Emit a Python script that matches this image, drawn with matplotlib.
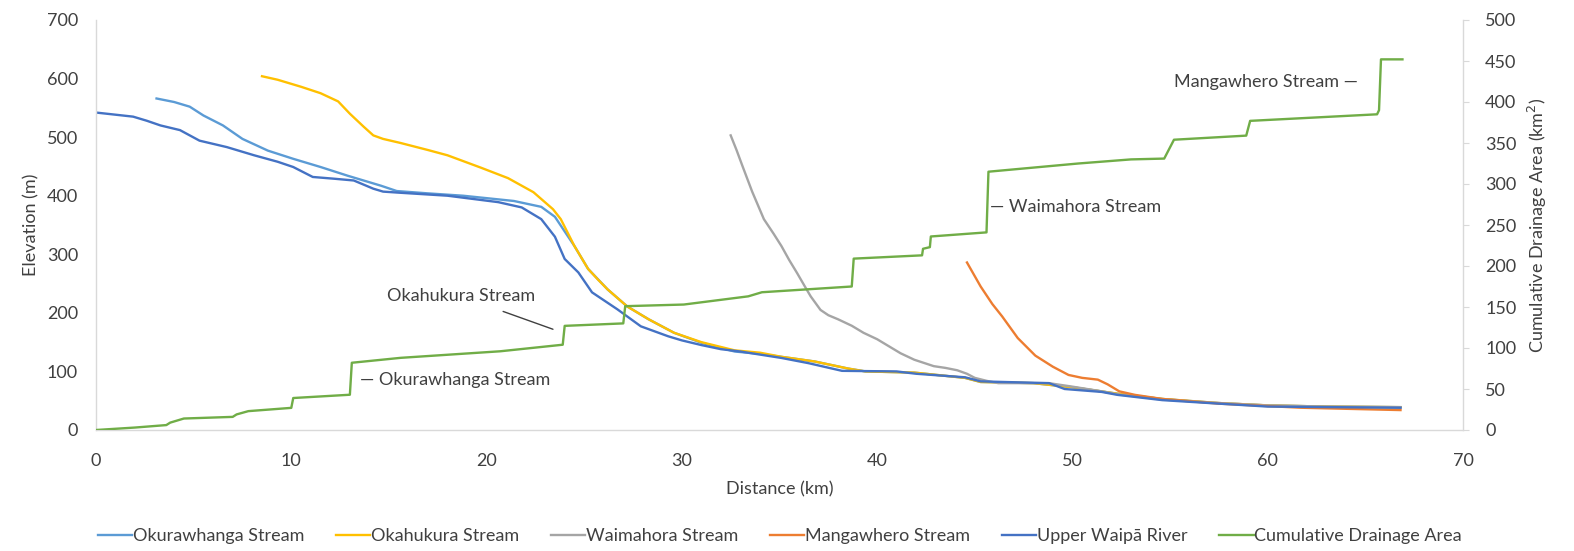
import matplotlib
matplotlib.use("Agg")
import matplotlib.pyplot as plt

plt.rcParams['font.family'] = ['Lato', 'DejaVu Sans']

# Long profiles: distance (km) and elevation (m)
okurawhanga_km = [3.1, 4.0, 4.8, 5.5, 6.5, 7.5, 8.8, 10.1, 11.5, 12.9, 14.6, 15.4, 17.0, 18.8,
                  21.4, 22.8, 23.5, 24.1, 24.5, 25.2, 26.2, 27.2, 28.3, 29.6, 31.0, 32.7, 34.0,
                  36.8, 38.5, 39.4, 41.9, 44.5, 45.3, 48.0, 50.0, 52.3, 54.6, 57.5, 60.0, 63.0,
                  66.8]
okurawhanga_m = [566, 560, 552, 537, 520, 497, 477, 463, 449, 434, 417, 408, 404, 400,
                 391, 381, 364, 334, 314, 275, 240, 211, 189, 166, 149, 134, 130,
                 117, 105, 100, 98, 89, 82, 80, 73, 62, 53, 46, 42, 40,
                 39]

okahukura_km = [8.5, 9.3, 10.5, 11.5, 12.4, 13.0, 13.7, 14.2, 14.7, 15.6, 17.0, 18.0, 19.7,
                21.1, 22.4, 23.4, 23.8, 24.5, 25.2, 25.7, 26.2, 27.2, 28.3, 29.6, 31.0, 32.7,
                34.0, 35.1, 36.8, 38.5, 39.4, 41.9, 44.5, 45.3, 48.0, 50.0, 52.3, 54.6, 57.5,
                60.0, 63.0, 66.8]
okahukura_m = [604, 598, 586, 575, 561, 540, 518, 503, 497, 490, 478, 469, 448,
               430, 406, 377, 360, 314, 275, 257, 240, 211, 189, 166, 150, 136,
               132, 125, 117, 105, 100, 98, 89, 82, 80, 73, 62, 53, 46,
               42, 40, 39]

waimahora_km = [32.5, 32.8, 33.1, 33.6, 34.2, 34.7, 35.1, 35.5, 35.9, 36.3, 36.6, 37.1, 37.5,
                38.0, 38.7, 39.3, 40.0, 40.6, 41.2, 41.9, 42.9, 43.5, 44.1, 44.6, 45.0, 45.6,
                46.2, 48.8, 50.0, 51.5, 52.3, 54.6, 57.5, 60.0, 63.0, 66.8]
waimahora_m = [503, 478, 451, 407, 360, 335, 314, 290, 268, 245, 228, 205, 196,
               189, 178, 166, 155, 143, 131, 120, 109, 106, 102, 96, 89, 84,
               80, 80, 74, 66, 61, 52, 46, 42, 40, 39]

mangawhero_km = [44.6, 45.3, 45.9, 46.4, 47.2, 48.1, 49.0, 49.8, 50.5, 51.3, 51.8, 52.4, 53.2,
                 54.6, 57.5, 61.7, 66.8]
mangawhero_m = [286, 245, 215, 194, 157, 127, 108, 94, 89, 86, 78, 66, 60,
                53, 45, 38, 34]

waipa_km = [0.0, 1.9, 2.6, 3.3, 4.3, 5.3, 6.7, 8.1, 9.3, 10.1, 11.1, 12.2, 13.2, 14.2, 14.7,
            15.6, 18.0, 20.6, 21.8, 22.8, 23.5, 24.0, 24.7, 25.4, 26.7, 27.9, 29.3, 30.0,
            31.0, 32.0, 33.0, 35.1, 36.5, 38.2, 41.0, 42.0, 44.5, 45.3, 48.8, 49.6, 51.5, 52.3,
            54.6, 57.5, 60.0, 66.8]
waipa_m = [542, 535, 528, 520, 512, 494, 483, 469, 458, 449, 432, 429, 426, 412, 407,
           405, 400, 389, 380, 360, 330, 292, 269, 235, 206, 177, 160, 153,
           145, 138, 134, 123, 114, 101, 100, 96, 90, 83, 80, 70, 65, 60,
           51, 45, 40, 38]

# Cumulative drainage area (km²) along the main stem
area_km = [0.0, 2.0, 3.6, 3.8, 4.5, 7.0, 7.2, 7.8, 10.0, 10.1, 13.0, 13.1, 15.6, 20.7, 23.9,
           24.0, 27.0, 27.1, 30.1, 33.4, 34.1, 38.7, 38.8, 42.3, 42.35, 42.7, 42.75, 45.6,
           45.7, 50.3, 53.0, 54.7, 55.2, 58.9, 59.1, 65.6, 65.7, 65.8, 66.9]
area_km2 = [0, 3, 6, 9, 14, 16, 19, 23, 27, 39, 43, 82, 88, 96, 104,
            127, 130, 151, 153, 163, 168, 175, 209, 213, 221, 223, 236, 241,
            315, 325, 330, 331, 354, 359, 377, 385, 390, 452, 452]

series_names = ["Okurawhanga Stream", "Okahukura Stream", "Waimahora Stream",
                "Mangawhero Stream", "Upper Waipā River", "Cumulative Drainage Area"]
series_colors = ["#5B9BD5", "#FFC000", "#A5A5A5", "#ED7D31", "#4472C4", "#70AD47"]

elev_ticks = [0, 100, 200, 300, 400, 500, 600, 700]
area_ticks = [0, 50, 100, 150, 200, 250, 300, 350, 400, 450, 500]
dist_ticks = [0, 10, 20, 30, 40, 50, 60, 70]

text_col = "#404040"
spine_col = "#D9D9D9"
fs = 13

fig = plt.figure(figsize=(15.74, 5.51), dpi=100)
ax = fig.add_axes([96 / 1574, 1 - 430 / 551, (1463 - 96) / 1574, (430 - 20) / 551])
ax2 = ax.twinx()

lw = 1.7
profiles = [(okurawhanga_km, okurawhanga_m), (okahukura_km, okahukura_m),
            (waimahora_km, waimahora_m), (mangawhero_km, mangawhero_m),
            (waipa_km, waipa_m)]
handles = []
for (xs, ys), name, col in zip(profiles, series_names[:5], series_colors[:5]):
    h, = ax.plot(xs, ys, color=col, lw=lw, label=name, solid_joinstyle='round')
    handles.append(h)
h, = ax2.plot(area_km, area_km2, color=series_colors[5], lw=lw, label=series_names[5])
handles.append(h)

ax.set_xlim(0, 70)
ax.set_ylim(0, 700)
ax2.set_ylim(0, 500)
ax.set_xticks(dist_ticks)
ax.set_yticks(elev_ticks)
ax2.set_yticks(area_ticks)

for a in (ax, ax2):
    for s in a.spines.values():
        s.set_visible(False)
ax.spines['left'].set_visible(True)
ax.spines['bottom'].set_visible(True)
ax2.spines['right'].set_visible(True)
for s in (ax.spines['left'], ax.spines['bottom'], ax2.spines['right']):
    s.set_color(spine_col)
    s.set_linewidth(1.0)

ax.tick_params(axis='both', length=0, labelsize=fs, labelcolor=text_col)
ax.tick_params(axis='y', pad=13)
ax.tick_params(axis='x', pad=16.5)
ax2.tick_params(axis='y', length=4, color=spine_col, labelsize=fs, labelcolor=text_col, pad=12)

ax.set_xlabel("Distance (km)", fontsize=fs, color=text_col, labelpad=9)
ax.set_ylabel("Elevation (m)", fontsize=fs, color=text_col, labelpad=5)
ax2.set_ylabel("Cumulative Drainage Area (km$^2$)", fontsize=fs, color=text_col, labelpad=7)

# Tributary junction labels
ann = dict(fontsize=fs, color=text_col)
ax.text(13.5, 86, "— Okurawhanga Stream", ha='left', va='center', **ann)
ax.annotate("Okahukura Stream", xy=(23.4, 172), xytext=(18.7, 228), ha='center', va='center',
            arrowprops=dict(arrowstyle='-', color=text_col, lw=1.0, shrinkA=9, shrinkB=0), **ann)
ax.text(45.8, 381, "— Waimahora Stream", ha='left', va='center', **ann)
ax.text(64.6, 594, "Mangawhero Stream —", ha='right', va='center', **ann)

fig.legend(handles=handles, labels=series_names, loc='center', ncol=6,
           bbox_to_anchor=(780 / 1574, 1 - 536 / 551), frameon=False, fontsize=fs,
           handlelength=1.9, handletextpad=0.05, columnspacing=1.75, labelcolor=text_col,
           borderpad=0.0)

fig.savefig("out.png", dpi=100)
